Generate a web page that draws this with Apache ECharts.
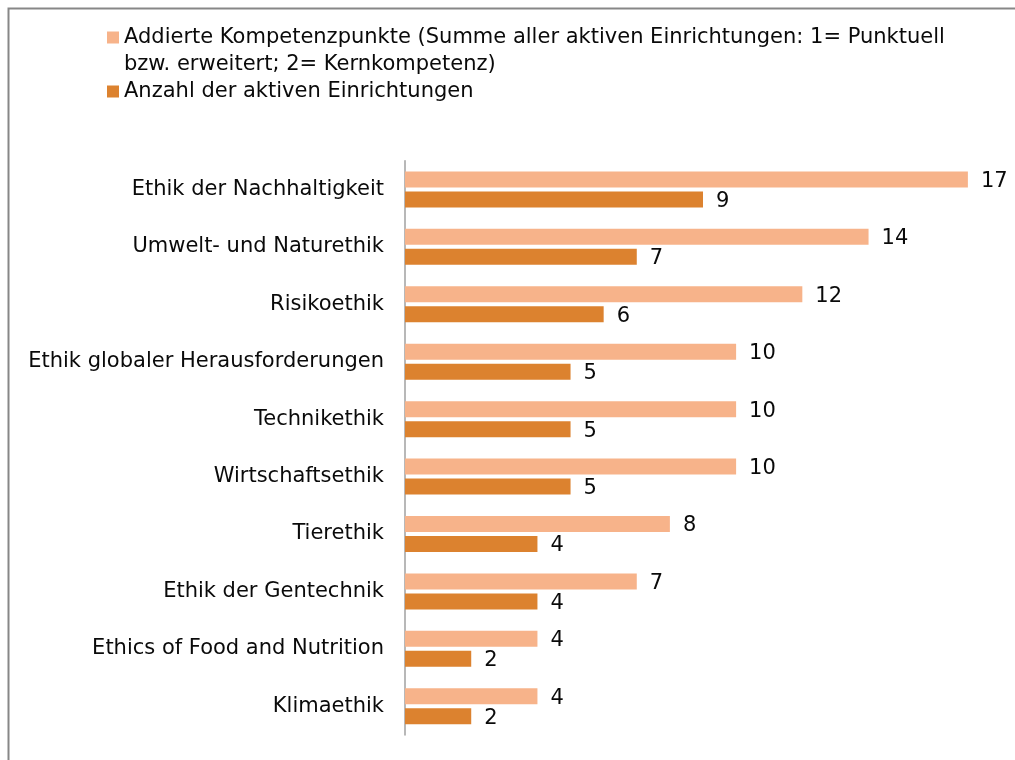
<!DOCTYPE html>
<html>
<head>
<meta charset="utf-8">
<script src="https://cdn.jsdelivr.net/npm/echarts@6/dist/echarts.min.js"></script>
<style>
html,body{margin:0;padding:0;background:#fff;}
#chart{width:1015px;height:760px;}
</style>
</head>
<body>
<div id="chart"></div>
<script>
const categories = [
  'Ethik der Nachhaltigkeit',
  'Umwelt- und Naturethik',
  'Risikoethik',
  'Ethik globaler Herausforderungen',
  'Technikethik',
  'Wirtschaftsethik',
  'Tierethik',
  'Ethik der Gentechnik',
  'Ethics of Food and Nutrition',
  'Klimaethik'
];
const seriesNames = [
  'Addierte Kompetenzpunkte (Summe aller aktiven Einrichtungen: 1= Punktuell\nbzw. erweitert; 2= Kernkompetenz)',
  'Anzahl der aktiven Einrichtungen'
];
const kompetenzpunkte = [17, 14, 12, 10, 10, 10, 8, 7, 4, 4];
const anzahlEinrichtungen = [9, 7, 6, 5, 5, 5, 4, 4, 2, 2];

const FONT = 'DejaVu Sans';
const FS = 21;
const chart = echarts.init(document.getElementById('chart'), null, {renderer: 'canvas'});

const labelStyle = {
  show: true,
  position: 'right',
  distance: 13,
  offset: [0, 2],
  fontFamily: FONT,
  fontSize: FS,
  color: '#0a0a0a'
};

chart.setOption({
  backgroundColor: '#ffffff',
  animation: false,
  graphic: [{
    type: 'rect',
    left: 6, top: 6,
    shape: {width: 1200, height: 900},
    style: {fill: 'none', stroke: '#878787', lineWidth: 2},
    silent: true
  }],
  legend: {
    orient: 'vertical',
    left: 107,
    top: -3,
    padding: 0,
    itemGap: 0,
    itemWidth: 12,
    itemHeight: 12,
    icon: 'rect',
    selectedMode: false,
    data: seriesNames,
    formatter: function (name) {
      return name.indexOf('\n') >= 0 ? ' \n' + name : name;
    },
    textStyle: {
      fontFamily: FONT,
      fontSize: FS,
      lineHeight: 27,
      color: '#0a0a0a'
    }
  },
  grid: {
    left: 405,
    right: 14,
    top: 160.7,
    bottom: 25,
    outerBoundsMode: 'none',
    containLabel: false
  },
  xAxis: {
    type: 'value',
    min: 0,
    max: 18,
    show: false
  },
  yAxis: {
    type: 'category',
    data: categories,
    inverse: true,
    axisLine: {show: true, lineStyle: {color: '#a0a0a0', width: 1.5}},
    axisTick: {show: false},
    splitLine: {show: false},
    axisLabel: {
      margin: 21,
      padding: [4, 0, 0, 0],
      fontFamily: FONT,
      fontSize: FS,
      color: '#0a0a0a'
    }
  },
  series: [{
    name: seriesNames[0],
    type: 'bar',
    data: kompetenzpunkte,
    barWidth: 16,
    barGap: '25%',
    itemStyle: {color: '#F7B38A'},
    label: labelStyle
  }, {
    name: seriesNames[1],
    type: 'bar',
    data: anzahlEinrichtungen,
    barWidth: 16,
    barGap: '25%',
    itemStyle: {color: '#DC822F'},
    label: labelStyle
  }]
});
</script>
</body>
</html>
